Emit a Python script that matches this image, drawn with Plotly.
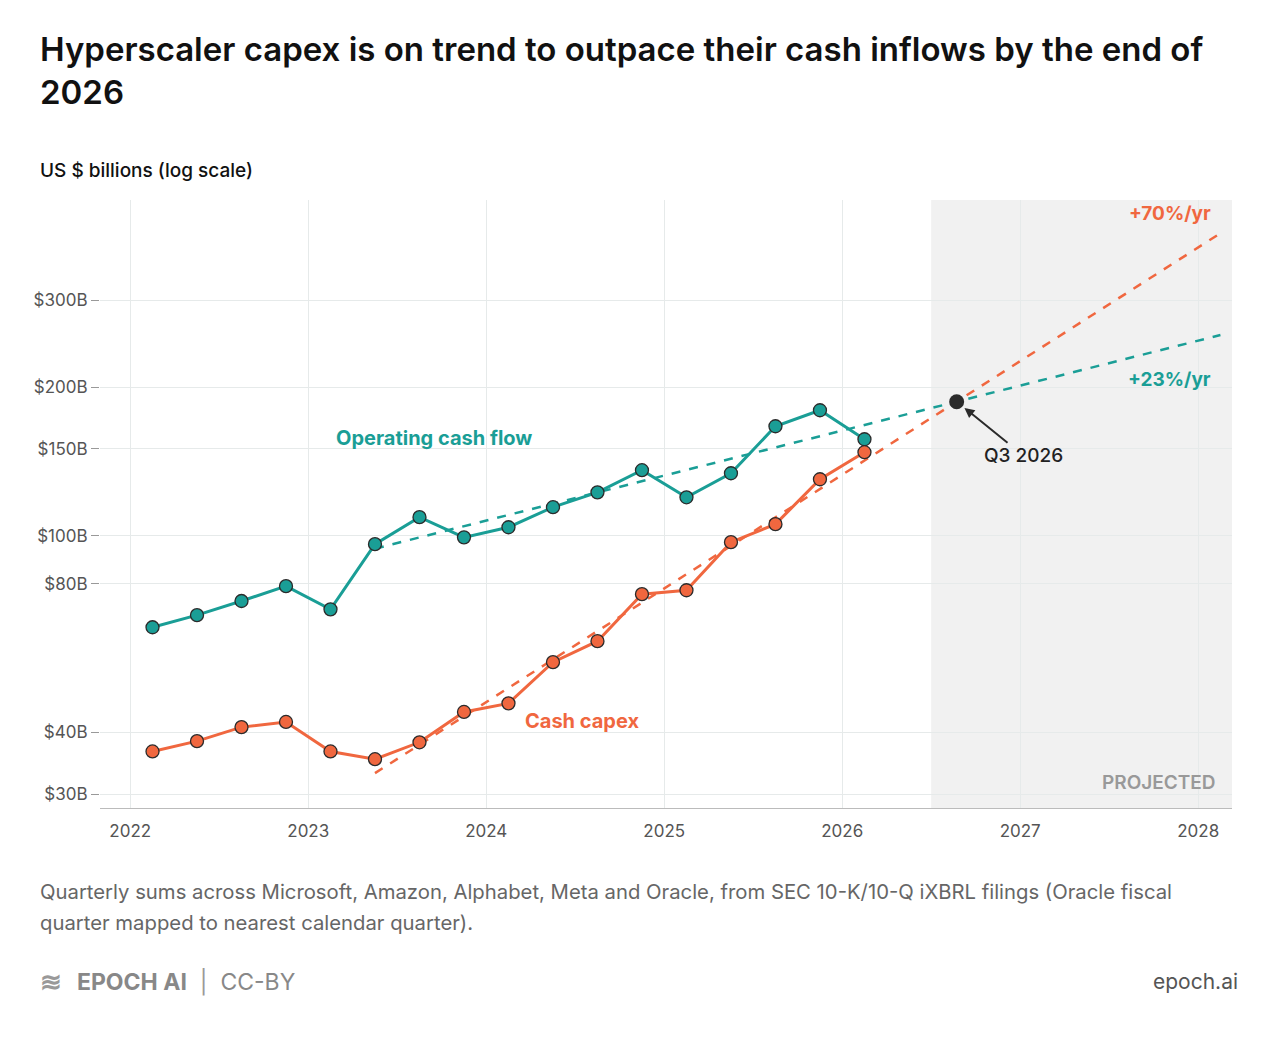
import numpy as np
import plotly.graph_objects as go

x_quarters = [2022.125 + 0.25 * i for i in range(17)]
ocf = [65.3, 69.1, 73.8, 79.1, 71.0, 96.2, 109.1, 99.3, 104.1, 114.3, 122.5, 135.8, 119.7, 133.9, 166.7, 179.6, 156.9]
capex = [36.6, 38.4, 41.0, 42.0, 36.6, 35.3, 38.2, 44.0, 45.8, 55.5, 61.2, 76.2, 77.6, 97.1, 105.6, 130.2, 147.7]
fit_start = 5
trend_end = 2028.125
ytick_vals = [30, 40, 80, 100, 150, 200, 300]
ytick_text = ["$30B", "$40B", "$80B", "$100B", "$150B", "$200B", "$300B"]
xtick_vals = [2022, 2023, 2024, 2025, 2026, 2027, 2028]

TEAL = "#1a9e96"
ORANGE = "#f0673f"
DARK = "#2b2b2b"

xs = np.array(x_quarters[fit_start:])
fo = np.polyfit(xs, np.log10(ocf[fit_start:]), 1)
fc = np.polyfit(xs, np.log10(capex[fit_start:]), 1)
tx = np.array([xs[0], trend_end])
xi = (fo[1] - fc[1]) / (fc[0] - fo[0])
yi = 10 ** (fo[0] * xi + fo[1])

fig = go.Figure()
fig.add_vrect(x0=2026.5, x1=2028.19, fillcolor="#f1f1f1", line_width=0, layer="below")
fig.add_trace(go.Scatter(x=tx, y=10 ** (fo[0] * tx + fo[1]), mode="lines",
                         line=dict(color=TEAL, width=2.5, dash="dash"), showlegend=False))
fig.add_trace(go.Scatter(x=tx, y=10 ** (fc[0] * tx + fc[1]), mode="lines",
                         line=dict(color=ORANGE, width=2.5, dash="dash"), showlegend=False))
for ys, c in [(ocf, TEAL), (capex, ORANGE)]:
    fig.add_trace(go.Scatter(x=x_quarters, y=ys, mode="lines+markers",
                             line=dict(color=c, width=3),
                             marker=dict(size=13, color=c, line=dict(color=DARK, width=1.3)),
                             showlegend=False))
fig.add_trace(go.Scatter(x=[xi], y=[yi], mode="markers",
                         marker=dict(size=15, color=DARK), showlegend=False))

F = "Inter, Noto Sans, sans-serif"
LX = -0.055
ann = [
    dict(x=LX, y=1.285, xref="paper", yref="paper", xanchor="left", yanchor="top", align="left",
         text="Hyperscaler capex is on trend to outpace their cash inflows by the end of<br>2026",
         font=dict(size=33, color="#111", family=F, weight=600)),
    dict(x=LX, y=1.049, xref="paper", yref="paper", xanchor="left", yanchor="middle",
         text="US $ billions (log scale)", font=dict(size=19, color="#111", family=F, weight=500)),
    dict(x=LX, y=-0.138, xref="paper", yref="paper", xanchor="left", yanchor="middle",
         text="Quarterly sums across Microsoft, Amazon, Alphabet, Meta and Oracle, from SEC 10-K/10-Q iXBRL filings (Oracle fiscal",
         font=dict(size=20.3, color="#666", family=F)),
    dict(x=LX, y=-0.189, xref="paper", yref="paper", xanchor="left", yanchor="middle",
         text="quarter mapped to nearest calendar quarter).",
         font=dict(size=20.3, color="#666", family=F)),
    dict(x=LX + 0.033, y=-0.286, xref="paper", yref="paper", xanchor="left", yanchor="middle",
         text="<b>EPOCH AI</b>  <span style='color:#999'>|</span>  CC-BY", font=dict(size=23, color="#888", family=F)),
    dict(x=LX, y=-0.286, xref="paper", yref="paper", xanchor="left", yanchor="middle",
         text="<b>≋</b>", font=dict(size=26, color="#999", family=F)),
    dict(x=1.007, y=-0.286, xref="paper", yref="paper", xanchor="right", yanchor="middle",
         text="epoch.ai", font=dict(size=21, color="#555", family=F)),
    dict(x=2023.708, y=2.198, text="<b>Operating cash flow</b>", font=dict(size=20, color=TEAL, family=F)),
    dict(x=2024.539, y=1.625, text="<b>Cash capex</b>", font=dict(size=20, color=ORANGE, family=F)),
    dict(x=2028.084, y=2.653, xanchor="right", text="<b>+70%/yr</b>", font=dict(size=19, color=ORANGE, family=F)),
    dict(x=2028.084, y=2.317, xanchor="right", text="<b>+23%/yr</b>", font=dict(size=19, color=TEAL, family=F)),
    dict(x=2028.112, y=1.501, xanchor="right", text="PROJECTED", font=dict(size=19, color="#999", family=F, weight=600)),
    dict(x=xi, y=np.log10(yi), text="Q3 2026", showarrow=True, arrowhead=2, arrowsize=1, arrowwidth=2,
         arrowcolor=DARK, ax=67, ay=54, standoff=10, font=dict(size=19, color="#222", family=F, weight=500)),
]
for a in ann:
    a.setdefault("showarrow", False)
fig.update_layout(
    width=1280, height=1038, margin=dict(l=92, r=56, t=192, b=238),
    plot_bgcolor="white", paper_bgcolor="white", annotations=ann,
    xaxis=dict(range=[2021.83, 2028.19], tickvals=xtick_vals, showgrid=True, gridcolor="#e6eaea",
               zeroline=False, showline=True, linecolor="#bbb", ticks="", ticklabelstandoff=8,
               tickfont=dict(size=17, color="#555", family=F)),
    yaxis=dict(type="log", range=[1.449, 2.68], tickvals=ytick_vals, ticktext=ytick_text,
               showgrid=True, gridcolor="#e6eaea", zeroline=False, ticks="outside", ticklen=8,
               tickcolor="#999", tickfont=dict(size=17, color="#555", family=F)),
)
fig.write_html("out.html")
